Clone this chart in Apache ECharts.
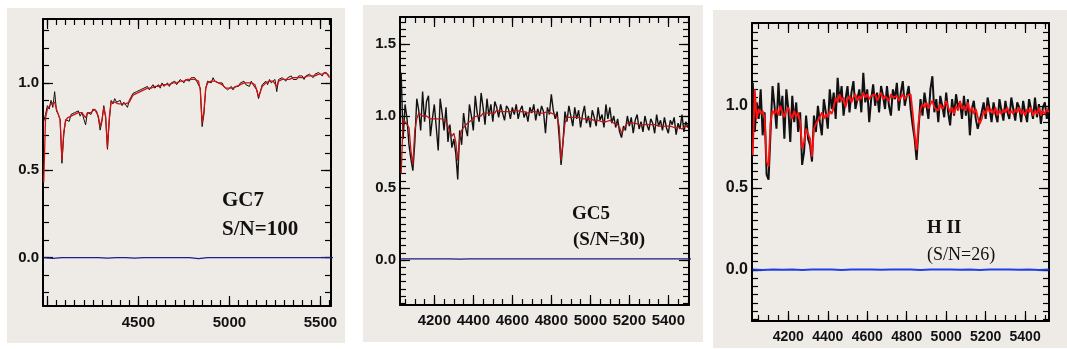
<!DOCTYPE html>
<html>
<head>
<meta charset="utf-8">
<style>
  html, body { margin: 0; padding: 0; background: #fff; }
  #chart { width: 1067px; height: 349px; }
</style>
<script src="https://cdn.jsdelivr.net/npm/echarts@6/dist/echarts.min.js"></script>
</head>
<body>
<div id="chart"></div>
<script>
// ---- GC7 (S/N=100): flux and fit, 10 A bins starting at 3980 A
const gc7Start = 3980;
const gc7Flux = [
  0.78, 0.82,
  0.87, 0.85, 0.90, 0.86, 0.95, 0.84, 0.82, 0.79, 0.54, 0.70,
  0.79, 0.80, 0.78, 0.82, 0.81, 0.83, 0.82, 0.84, 0.81, 0.83,
  0.82, 0.76, 0.83, 0.84, 0.82, 0.85, 0.86, 0.84, 0.80, 0.73,
  0.78, 0.87, 0.80, 0.62, 0.78, 0.90, 0.88, 0.91, 0.89, 0.88,
  0.90, 0.87, 0.89, 0.88, 0.86, 0.90, 0.89, 0.94, 0.93, 0.95,
  0.94, 0.96, 0.95, 0.97, 0.96, 0.98, 0.96, 0.97, 0.99, 0.97,
  0.98, 0.99, 0.97, 1.00, 0.98, 0.99, 1.00, 0.98, 1.00, 0.99,
  1.01, 0.99, 1.00, 1.02, 1.01, 1.00, 1.02, 1.03, 1.01, 1.03,
  1.02, 1.03, 1.01, 1.02, 0.97, 0.75, 0.82, 0.97, 1.01, 1.02,
  1.00, 1.03, 1.01, 1.02, 1.00, 0.99, 1.00, 0.98, 0.97, 0.96,
  0.97, 0.98, 0.96, 0.98, 0.99, 0.98, 1.00, 0.99, 1.01, 0.99,
  1.00, 0.98, 1.01, 0.99, 1.00, 0.96, 0.91, 0.95, 0.99, 1.00,
  1.01, 0.99, 1.02, 1.00, 1.01, 1.02, 0.95, 1.02, 1.01, 1.03,
  1.02, 1.01, 1.03, 1.02, 1.04, 1.02, 1.03, 1.02, 1.04, 1.03,
  1.04, 1.02, 1.04, 1.03, 1.05, 1.04, 1.03, 1.05, 1.04, 1.06,
  1.05, 1.04, 1.06, 1.07, 1.05, 1.04
];
const gc7Fit = [
  0.43, 0.80,
  0.85, 0.86, 0.88, 0.87, 0.89, 0.85, 0.82, 0.79, 0.56, 0.72,
  0.78, 0.80, 0.80, 0.81, 0.82, 0.82, 0.82, 0.83, 0.82, 0.83,
  0.82, 0.80, 0.83, 0.83, 0.83, 0.84, 0.85, 0.84, 0.81, 0.75,
  0.79, 0.86, 0.81, 0.63, 0.80, 0.89, 0.89, 0.89, 0.89, 0.88,
  0.89, 0.88, 0.88, 0.88, 0.88, 0.89, 0.90, 0.93, 0.94, 0.94,
  0.95, 0.95, 0.95, 0.96, 0.96, 0.97, 0.97, 0.97, 0.98, 0.98,
  0.98, 0.98, 0.98, 0.99, 0.99, 0.99, 0.99, 0.99, 0.99, 1.00,
  1.00, 1.00, 1.00, 1.01, 1.01, 1.01, 1.02, 1.02, 1.02, 1.02,
  1.02, 1.02, 1.02, 1.01, 0.96, 0.77, 0.84, 0.97, 1.00, 1.01,
  1.01, 1.01, 1.01, 1.01, 1.00, 0.99, 0.99, 0.98, 0.97, 0.97,
  0.97, 0.97, 0.97, 0.98, 0.98, 0.99, 0.99, 0.99, 1.00, 1.00,
  1.00, 0.99, 1.00, 1.00, 0.99, 0.96, 0.92, 0.95, 0.98, 0.99,
  1.00, 1.00, 1.01, 1.01, 1.01, 1.01, 0.98, 1.01, 1.01, 1.02,
  1.02, 1.02, 1.02, 1.02, 1.03, 1.03, 1.03, 1.03, 1.03, 1.03,
  1.03, 1.03, 1.04, 1.04, 1.04, 1.04, 1.04, 1.04, 1.05, 1.05,
  1.05, 1.05, 1.05, 1.06, 1.05, 1.03
];
// residuals, 50 A bins
const gc7Resid = [
  0, -0.004, 0, 0, 0, 0, 0, -0.003, 0, 0, -0.003, 0, 0, 0, 0, 0,
  0, -0.006, 0, 0, 0, 0, 0, 0, 0, 0, 0, 0, 0, 0, 0, 0, 0
];

// ---- GC5 (S/N=30), 10 A bins starting at 4030 A
const gc5Start = 4030;
const gc5Flux = [
  1.30, 0.84, 1.08, 0.98, 0.80, 0.70, 0.62,
  0.82, 1.12, 1.04, 0.90, 1.17, 0.96, 1.10, 1.14, 0.86, 0.98,
  1.08, 0.92, 0.76, 1.12, 1.02, 0.90, 1.06, 0.82, 0.94, 0.78,
  0.84, 0.74, 0.56, 0.90, 0.80, 1.02, 0.92, 0.86, 1.08, 1.00,
  0.90, 1.14, 1.02, 0.96, 1.16, 1.06, 0.94, 1.12, 1.00, 1.08,
  0.96, 1.10, 1.06, 0.99, 1.08, 1.02, 0.97, 1.07, 1.05, 0.98,
  1.06, 1.01, 1.08, 0.98, 1.04, 1.07, 0.99, 1.03, 0.96, 1.06,
  1.02, 1.08, 0.97, 1.05, 1.00, 1.07, 1.03, 0.88, 1.06, 1.01,
  1.15, 1.04, 0.98, 1.03, 0.86, 0.66, 0.82, 1.03, 0.96, 1.07,
  1.00, 0.93, 1.06, 0.98, 1.04, 0.92, 1.01, 1.07, 0.95, 1.00,
  0.92, 1.04, 0.99, 0.93, 1.06, 0.97, 1.01, 0.92, 1.08, 0.98,
  1.06, 0.95, 1.00, 0.92, 0.98, 0.89, 0.85, 0.93, 0.90, 1.00,
  0.93, 0.99, 0.88, 0.97, 1.01, 0.91, 0.96, 0.89, 1.00, 0.94,
  0.90, 0.98, 0.95, 0.88, 1.01, 0.93, 0.97, 0.90, 0.99, 0.92,
  0.88, 0.97, 0.94, 0.99, 0.87, 0.95, 0.91, 1.01, 0.89, 0.96,
  0.92
];
const gc5Fit = [
  0.60, 0.98, 0.97, 0.94, 0.92, 0.76, 0.66,
  0.90, 0.98, 1.02, 1.01, 1.00, 1.01, 1.00, 0.99, 0.98, 0.99,
  0.98, 0.99, 0.98, 0.97, 0.98, 0.97, 0.96, 0.93, 0.89, 0.86,
  0.88, 0.82, 0.69, 0.84, 0.90, 0.92, 0.93, 0.95, 0.96, 0.97,
  0.99, 0.98, 1.00, 1.01, 1.00, 1.02, 1.01, 1.02, 1.03, 1.02,
  1.03, 1.02, 1.04, 1.03, 1.03, 1.04, 1.03, 1.04, 1.03, 1.04,
  1.03, 1.03, 1.04, 1.03, 1.03, 1.04, 1.03, 1.03, 1.02, 1.03,
  1.03, 1.02, 1.03, 1.03, 1.02, 1.03, 1.02, 1.02, 1.03, 1.02,
  1.02, 1.01, 1.01, 0.99, 0.93, 0.69, 0.82, 0.95, 0.99, 1.00,
  0.99, 1.00, 0.99, 0.98, 0.99, 0.98, 0.98, 0.97, 0.98, 0.97,
  0.98, 0.97, 0.97, 0.96, 0.97, 0.97, 0.96, 0.97, 0.96, 0.96,
  0.97, 0.96, 0.95, 0.95, 0.94, 0.92, 0.88, 0.89, 0.93, 0.95,
  0.94, 0.95, 0.94, 0.95, 0.94, 0.94, 0.95, 0.94, 0.93, 0.94,
  0.93, 0.94, 0.93, 0.94, 0.93, 0.93, 0.94, 0.93, 0.92, 0.93,
  0.92, 0.93, 0.92, 0.92, 0.93, 0.92, 0.92, 0.91, 0.92, 0.93,
  0.92
];
const gc5Resid = [
  0.008, 0.008, 0.008, 0.008, 0.008, 0.008, 0.007, 0.008, 0.008, 0.008, 0.008,
  0.008, 0.008, 0.008, 0.008, 0.008, 0.008, 0.008, 0.008, 0.008, 0.008,
  0.008, 0.008, 0.008, 0.008, 0.008, 0.008, 0.008, 0.008, 0.008, 0.008
];

// ---- H II (S/N=26), 10 A bins starting at 4020 A
const hiiStart = 4020;
const hiiFlux = [
  1.14, 0.84, 1.02, 0.92, 1.10, 0.82, 0.96, 0.58,
  0.55, 0.84, 1.12, 1.00, 0.86, 1.14, 0.94, 1.06, 0.80, 1.10,
  0.98, 0.78, 1.06, 0.90, 1.02, 0.84, 0.96, 0.64, 0.72, 0.94,
  0.80, 0.76, 0.66, 0.94, 0.84, 1.00, 0.90, 0.82, 1.04, 0.96,
  0.86, 1.10, 0.98, 1.08, 0.92, 1.17, 1.02, 1.12, 0.94, 1.04,
  1.12, 0.96, 1.08, 1.15, 0.98, 1.04, 1.10, 0.96, 1.20, 1.02,
  1.10, 0.90, 1.04, 1.13, 1.00, 1.08, 0.96, 1.12, 1.06, 0.98,
  1.12, 1.00, 0.94, 1.10, 1.04, 1.14, 0.97, 1.08, 1.15, 1.00,
  1.06, 1.12, 0.98, 0.88, 0.80, 0.67, 0.86, 1.04, 0.94, 1.08,
  1.00, 0.92, 1.10, 1.18, 0.96, 1.04, 0.90, 1.06, 1.00, 0.93,
  1.08, 0.96, 0.88, 1.04, 0.94, 1.07, 0.99, 1.02, 0.92, 1.06,
  0.94, 1.04, 0.82, 0.98, 1.03, 0.92, 0.86, 0.85, 0.96, 1.02,
  0.92, 1.05, 0.98, 0.90, 1.02, 0.95, 0.90, 1.04, 0.97, 0.91,
  1.03, 0.96, 0.92, 1.05, 0.98, 0.91, 1.02, 0.99, 0.90, 1.03,
  0.96, 0.90, 1.04, 0.98, 0.92, 1.05, 0.93, 1.01, 0.89, 0.99,
  1.02, 0.92, 0.99
];
const hiiFit = [
  0.70, 1.10, 0.92, 0.98, 0.95, 0.97, 0.93, 0.66,
  0.63, 0.90, 0.97, 0.95, 0.98, 0.94, 1.00, 0.96, 0.93, 0.97,
  0.99, 0.95, 0.92, 0.97, 0.93, 0.96, 0.90, 0.74, 0.78, 0.86,
  0.85, 0.80, 0.69, 0.86, 0.89, 0.90, 0.93, 0.96, 0.92, 0.95,
  0.93, 0.97, 0.95, 0.99, 1.05, 1.02, 1.07, 1.03, 1.05, 0.99,
  1.04, 1.06, 1.02, 1.05, 1.07, 1.03, 1.06, 1.04, 1.08, 1.05,
  1.07, 1.04, 1.06, 1.05, 1.07, 1.03, 1.06, 1.08, 1.04, 1.06,
  1.05, 1.03, 1.07, 1.05, 1.04, 1.06, 1.03, 1.05, 1.07, 1.04,
  1.06, 1.05, 1.07, 0.96, 0.83, 0.73, 0.90, 0.98, 1.01, 0.99,
  1.02, 0.98, 1.01, 1.03, 0.99, 1.00, 0.97, 1.01, 0.98, 1.00,
  1.03, 0.99, 0.96, 0.99, 0.95, 1.00, 0.97, 1.03, 0.98, 1.00,
  0.97, 1.02, 0.96, 0.99, 0.95, 0.98, 0.93, 0.89, 0.92, 0.97,
  0.95, 1.00, 0.96, 0.98, 0.95, 0.99, 0.94, 0.97, 0.95, 0.98,
  0.96, 0.99, 0.95, 0.97, 0.95, 0.98, 0.96, 0.99, 0.95, 0.97,
  0.94, 0.98, 0.96, 0.99, 0.94, 0.97, 0.95, 0.99, 0.94, 0.97,
  0.95, 0.98, 0.96
];
const hiiResid = [
  0.003, 0.0, 0.003, 0.001, 0.003, 0.0, 0.003, 0.002, 0.003, 0.0, 0.003,
  0.003, 0.003, 0.001, 0.003, 0.003, 0.003, 0.0, 0.003, 0.002, 0.003,
  0.001, 0.003, 0.0, 0.003, 0.002, 0.003, 0.001, 0.003, 0.0, 0.003
];

const toPairs = (start, step, arr) => arr.map((v, i) => [start + i * step, v]);

function steps(from, to, step) {
  const out = [];
  for (let v = from; v <= to + 1e-9; v += step) out.push(Math.round(v * 1000) / 1000);
  return out;
}

const panels = [
  {
    grid: { left: 43, top: 19, width: 288, height: 287 },
    x: [3976, 5558], y: [-0.277, 1.366],
    xLabels: [4500, 5000, 5500], xMajor: [4000, 4500, 5000, 5500], xMinor: steps(4000, 5550, 50),
    yLabels: [0, 0.5, 1], yMajor: [0, 0.5, 1], yMinor: steps(-0.2, 1.3, 0.1),
    xFont: 15, yFont: 15, xMargin: 9, yMargin: 4,
    flux: toPairs(gc7Start, 10, gc7Flux), fit: toPairs(gc7Start, 10, gc7Fit),
    resid: toPairs(gc7Start, 50, gc7Resid),
    fitColor: '#d01010', residColor: '#1c1c8c', fluxW: 1, fitW: 1.3, residW: 1.2
  },
  {
    grid: { left: 400, top: 17, width: 289, height: 288 },
    x: [4024, 5506], y: [-0.312, 1.687],
    xLabels: steps(4200, 5400, 200), xMajor: steps(4200, 5400, 200), xMinor: steps(4050, 5500, 50),
    yLabels: [0, 0.5, 1, 1.5], yMajor: [0, 0.5, 1, 1.5], yMinor: steps(-0.3, 1.65, 0.05),
    xFont: 15, yFont: 15, xMargin: 8, yMargin: 4,
    flux: toPairs(gc5Start, 10, gc5Flux), fit: toPairs(gc5Start, 10, gc5Fit),
    resid: toPairs(gc5Start, 50, gc5Resid),
    fitColor: '#b41818', residColor: '#1a1a80', fluxW: 1.4, fitW: 1.3, residW: 1.2
  },
  {
    grid: { left: 752, top: 23, width: 297, height: 298 },
    x: [4016, 5521], y: [-0.311, 1.504],
    xLabels: steps(4200, 5400, 200), xMajor: steps(4200, 5400, 200), xMinor: steps(4050, 5500, 50),
    yLabels: [0, 0.5, 1], yMajor: [0, 0.5, 1], yMinor: steps(-0.3, 1.5, 0.05),
    xFont: 14, yFont: 16, xMargin: 9, yMargin: 4,
    flux: toPairs(hiiStart, 10, hiiFlux), fit: toPairs(hiiStart, 10, hiiFit),
    resid: toPairs(hiiStart, 50, hiiResid),
    fitColor: '#ff1010', residColor: '#1f40e6', fluxW: 2, fitW: 1.8, residW: 2
  }
];

const labelFont = { color: '#111', fontFamily: 'Liberation Sans', fontWeight: 'bold' };
const tickStyle = { color: '#000', width: 1.2 };

function axisSet(gi, pos, range, labels, major, minor, font, margin, fmt) {
  const base = { type: 'value', gridIndex: gi, position: pos, min: range[0], max: range[1],
    splitLine: { show: false }, scale: true };
  const main = Object.assign({}, base, {
    axisLine: { show: true, onZero: false, lineStyle: { color: '#000', width: 2 } },
    axisTick: { show: true, inside: true, length: 10, customValues: major, lineStyle: tickStyle },
    axisLabel: labels
      ? Object.assign({ show: true, customValues: labels, formatter: fmt, margin: margin, fontSize: font }, labelFont)
      : { show: false }
  });
  const minorAxis = Object.assign({}, base, {
    axisLine: { show: false, onZero: false },
    axisTick: { show: true, inside: true, length: 6, customValues: minor, lineStyle: tickStyle },
    axisLabel: { show: false }
  });
  return [main, minorAxis];
}

const xAxis = [], yAxis = [], grid = [], series = [];
panels.forEach((p, gi) => {
  grid.push(Object.assign({ containLabel: false }, p.grid));
  const xi = xAxis.length, yi = yAxis.length;
  xAxis.push(...axisSet(gi, 'bottom', p.x, p.xLabels, p.xMajor, p.xMinor, p.xFont, p.xMargin, v => String(v)));
  xAxis.push(...axisSet(gi, 'top', p.x, null, p.xMajor, p.xMinor));
  yAxis.push(...axisSet(gi, 'left', p.y, p.yLabels, p.yMajor, p.yMinor, p.yFont, p.yMargin, v => v.toFixed(1)));
  yAxis.push(...axisSet(gi, 'right', p.y, null, p.yMajor, p.yMinor));
  const common = { type: 'line', xAxisIndex: xi, yAxisIndex: yi, symbol: 'none', clip: true, silent: true };
  series.push(Object.assign({}, common, { data: p.flux, lineStyle: { color: '#111', width: p.fluxW } }));
  series.push(Object.assign({}, common, { data: p.fit, lineStyle: { color: p.fitColor, width: p.fitW } }));
  series.push(Object.assign({}, common, { data: p.resid, lineStyle: { color: p.residColor, width: p.residW } }));
});

const serif = '"Liberation Serif", "DejaVu Serif", serif';
function note(x, y, text, size, weight) {
  return { type: 'text', x: x, y: y, z: 50,
    style: { text: text, fill: '#111', font: weight + ' ' + size + 'px ' + serif, verticalAlign: 'middle' } };
}

const chart = echarts.init(document.getElementById('chart'));
chart.setOption({
  animation: false,
  backgroundColor: '#ffffff',
  graphic: [
    { type: 'rect', z: -10, shape: { x: 7, y: 8, width: 338, height: 335 }, style: { fill: '#eeebe6' } },
    { type: 'rect', z: -10, shape: { x: 363, y: 5, width: 340, height: 337 }, style: { fill: '#eeebe6' } },
    { type: 'rect', z: -10, shape: { x: 713, y: 10, width: 354, height: 338 }, style: { fill: '#eeebe7' } },
    note(222, 201, 'GC7', 21, 'bold'),
    note(222, 230, 'S/N=100', 21, 'bold'),
    note(572, 214, 'GC5', 19, 'bold'),
    note(573, 240, '(S/N=30)', 19, 'bold'),
    note(927, 228, 'H II', 19, 'bold'),
    note(927, 255, '(S/N=26)', 18, 'normal')
  ],
  grid: grid,
  xAxis: xAxis,
  yAxis: yAxis,
  series: series
});
</script>
</body>
</html>
